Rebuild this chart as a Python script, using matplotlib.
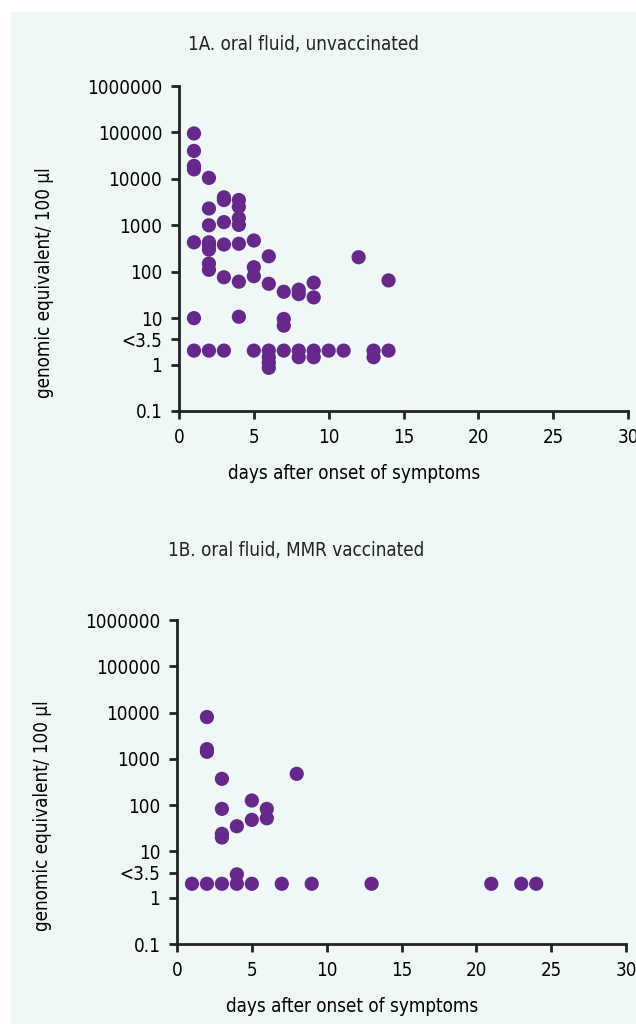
import numpy as np
import matplotlib
matplotlib.use('Agg')
import matplotlib.pyplot as plt
from matplotlib.patches import Rectangle
from matplotlib import font_manager

# data (values at the "<3.5" row plotted at ~2)
days_a = [1, 1, 1, 1, 1, 1, 1,
          2, 2, 2, 2, 2, 2, 2, 2, 2,
          3, 3, 3, 3, 3, 3,
          4, 4, 4, 4, 4, 4, 4,
          5, 5, 5, 5,
          6, 6, 6, 6, 6, 6,
          7, 7, 7, 7,
          8, 8, 8, 8,
          9, 9, 9, 9,
          10, 11, 12, 13, 13, 14, 14]
vals_a = [95000, 40000, 19000, 16000, 430, 10, 2,
          10500, 2300, 1000, 430, 370, 300, 150, 110, 2,
          4000, 3500, 1170, 385, 76, 2,
          3500, 2500, 1420, 1020, 400, 61, 10.7,
          470, 125, 80, 2,
          215, 55, 2, 1.45, 1.1, 0.85,
          37, 9.6, 6.9, 2,
          41, 33, 2, 1.44,
          58, 28, 2, 1.44,
          2, 2, 205, 2, 1.44, 65, 2]

days_b = [1, 2, 2, 2, 2, 3, 3, 3, 3, 3, 4, 4, 4, 5, 5, 5, 6, 6, 7, 8, 9, 13, 21, 23, 24]
vals_b = [2, 8000, 1620, 1420, 2, 370, 83, 24, 20, 2, 35, 3.2, 2, 126, 48, 2, 83, 52, 2, 475, 2, 2, 2, 2, 2]

yticks = [0.1, 1, 3.5, 10, 100, 1000, 10000, 100000, 1000000]
ytick_labels = ['0.1', '1', '<3.5', '10', '100', '1000', '10000', '100000', '1000000']
xticks = [0, 5, 10, 15, 20, 25, 30]

# pick a narrow sans if one is around
fonts = font_manager.fontManager.ttflist
names = {f.name for f in fonts}
dv_cond = any(f.name == 'DejaVu Sans' and f.stretch == 'condensed' for f in fonts)
if 'Liberation Sans Narrow' in names:
    plt.rcParams['font.family'] = ['Liberation Sans Narrow', 'DejaVu Sans']
    fs = 14
elif dv_cond:
    plt.rcParams['font.family'] = ['DejaVu Sans']
    plt.rcParams['font.stretch'] = 'condensed'
    fs = 13.5
else:
    plt.rcParams['font.family'] = ['Roboto', 'DejaVu Sans']
    fs = 13.5
plt.rcParams['text.color'] = '#222222'

purple = '#66298b'
bg = '#eff8f6'

fig = plt.figure(figsize=(6.36, 10.24), dpi=100)
fig.patches.append(Rectangle((11 / 636, 0), 1, 1 - 12 / 1024, transform=fig.transFigure,
                             facecolor=bg, edgecolor='none', zorder=-10))


def panel(rect, days, vals, title, title_xy):
    ax = fig.add_axes(rect)
    ax.set_facecolor('none')
    ax.scatter(days, vals, s=105, color=purple, edgecolors='none', zorder=3, clip_on=False)
    ax.set_yscale('log')
    ax.set_ylim(0.1, 1000000)
    ax.set_xlim(0, 30)
    ax.set_yticks(yticks)
    ax.set_yticklabels(ytick_labels)
    ax.yaxis.set_minor_locator(matplotlib.ticker.NullLocator())
    ax.set_xticks(xticks)
    for s in ['top', 'right']:
        ax.spines[s].set_visible(False)
    for s in ['left', 'bottom']:
        ax.spines[s].set_linewidth(2)
        ax.spines[s].set_color('#222222')
    ax.tick_params(width=2, length=6, color='#222222', labelsize=fs)
    ax.tick_params(axis='y', pad=6)
    ax.tick_params(axis='x', pad=6)
    ax.set_xlabel('days after onset of symptoms', fontsize=fs, va='center')
    ax.xaxis.set_label_coords(175 / 449, -0.193)
    ax.set_ylabel('genomic equivalent/ 100 µl', fontsize=fs, va='center')
    ax.yaxis.set_label_coords(-134 / 449, 0.395)
    fig.text(title_xy[0] / 636, 1 - title_xy[1] / 1024, title,
             ha='center', va='center', fontsize=fs)
    return ax


panel([179 / 636, 1 - 411 / 1024, 449 / 636, 325 / 1024], days_a, vals_a,
      '1A. oral fluid, unvaccinated', (303, 44))
panel([177 / 636, 1 - 944 / 1024, 449 / 636, 324 / 1024], days_b, vals_b,
      '1B. oral fluid, MMR vaccinated', (296, 550))

fig.savefig('out.png', dpi=100)
